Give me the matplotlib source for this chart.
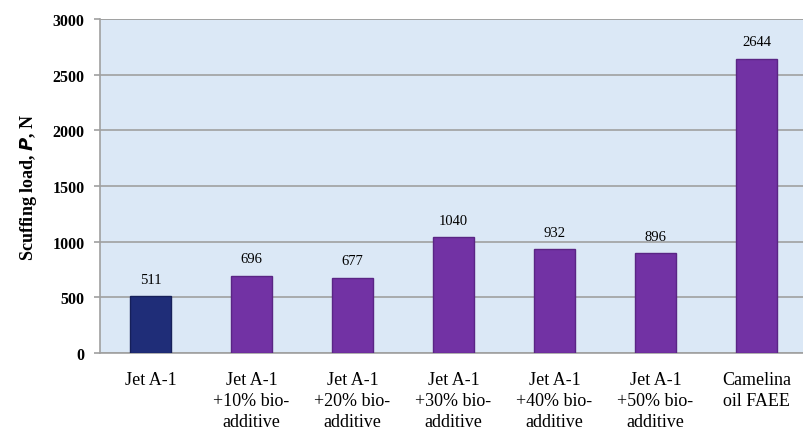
import matplotlib
matplotlib.use("Agg")
import matplotlib.pyplot as plt

categories = ["Jet A-1", "Jet A-1\n+10% bio-\nadditive", "Jet A-1\n+20% bio-\nadditive",
              "Jet A-1\n+30% bio-\nadditive", "Jet A-1\n+40% bio-\nadditive",
              "Jet A-1\n+50% bio-\nadditive", "Camelina\noil FAEE"]
values = [511, 696, 677, 1040, 932, 896, 2644]
colors = ["#1f2d78", "#7232a4", "#7232a4", "#7232a4", "#7232a4", "#7232a4", "#7232a4"]
edges = ["#16205a", "#5a2585", "#5a2585", "#5a2585", "#5a2585", "#5a2585", "#5a2585"]
yticks = [0, 500, 1000, 1500, 2000, 2500, 3000]

plt.rcParams['font.family'] = ['Liberation Serif', 'DejaVu Serif']

fig = plt.figure(figsize=(8.04, 4.35), dpi=100)
ax = fig.add_axes([100/804, 1 - 354/435, 707/804, (354-20)/435])
ax.set_facecolor("#dbe8f6")

x = range(len(categories))
ax.bar(x, values, width=0.41, color=colors, edgecolor=edges, linewidth=1.0, zorder=3)
for xi, v in zip(x, values):
    ax.text(xi, v + 95, str(v), ha="center", va="bottom", fontsize=10.5, zorder=4)

ax.set_xlim(-0.5, len(categories) - 0.5)
ax.set_ylim(0, 3000)
ax.set_yticks(yticks)
ax.set_yticklabels([str(t) for t in yticks], fontsize=11.5, fontweight="bold")
ax.yaxis.grid(True, color="#a0a0a0", linewidth=1.2, zorder=1)
ax.set_axisbelow(True)
ax.set_xticks(list(x))
ax.set_xticklabels(categories, fontsize=13, linespacing=1.3)
ax.tick_params(axis="x", length=0, pad=13)
ax.tick_params(axis="y", length=4, color="#a0a0a0", width=1.2, pad=7)
for s in ["top", "right"]:
    ax.spines[s].set_visible(False)
for s in ["left", "bottom"]:
    ax.spines[s].set_color("#a0a0a0")
    ax.spines[s].set_linewidth(1.2)
ax.axhline(3000, color="#a0a0a0", linewidth=1.2, zorder=2)

ax.set_ylabel("Scuffing load, $\\mathbfit{P}$, N", fontsize=13, fontweight="bold", labelpad=10)

fig.savefig("out.png", dpi=100)
